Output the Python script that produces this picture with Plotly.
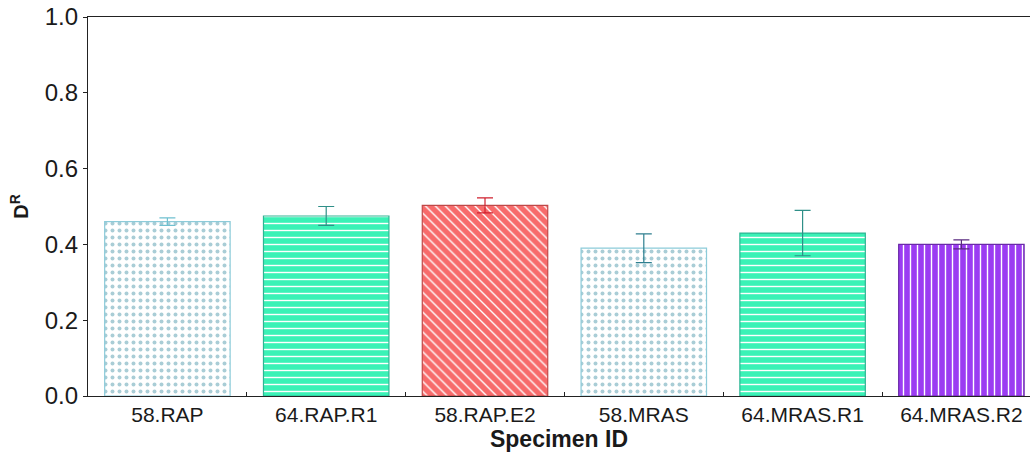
import plotly.graph_objects as go

categories = ["58.RAP", "64.RAP.R1", "58.RAP.E2", "58.MRAS", "64.MRAS.R1", "64.MRAS.R2"]
values = [0.460, 0.475, 0.503, 0.390, 0.430, 0.400]
errors = [0.010, 0.025, 0.020, 0.038, 0.060, 0.012]

fill_colors = ["#FFFFFF", "#3AF2B6", "#F76B6B", "#FFFFFF", "#3AF2B6", "#9B3CF2"]
pattern_fg = ["#A9CDD6", "#FFFFFF", "#FFFFFF", "#A9CDD6", "#FFFFFF", "#FFFFFF"]
shapes = [".", "-", "\\", ".", "-", "|"]
line_colors = ["#8CCBD9", "#2EB594", "#C04848", "#8CCBD9", "#2EB594", "#6A2AA8"]
err_colors = ["#6FC0D0", "#2F8F88", "#D0202E", "#2F7F8F", "#2F8F88", "#5A2A80"]

fig = go.Figure()
for i, c in enumerate(categories):
    fig.add_trace(go.Bar(
        x=[c], y=[values[i]],
        width=0.79,
        marker=dict(
            color=fill_colors[i],
            line=dict(color=line_colors[i], width=1.2),
            pattern=dict(shape=shapes[i], fgcolor=pattern_fg[i], bgcolor=fill_colors[i],
                         size=7, solidity=0.2 if shapes[i] != "." else 0.25,
                         fillmode="replace"),
        ),
        error_y=dict(type="data", array=[errors[i]], visible=True,
                     color=err_colors[i], thickness=1.2, width=8),
        showlegend=False,
    ))

font_fam = "Liberation Sans, Arial, sans-serif"
fig.update_layout(
    barmode="overlay",
    width=1030, height=456,
    margin=dict(l=88, r=0, t=17, b=60),
    paper_bgcolor="white", plot_bgcolor="white",
    font=dict(family=font_fam, color="#1a1a1a"),
    xaxis=dict(
        categoryorder="array", categoryarray=categories,
        range=[-0.5, 5.432],
        automargin=False,
        showline=True, linecolor="#222", linewidth=1.2, mirror=True,
        ticks="inside", ticklen=4, tickcolor="#222", tickson="boundaries",
        tickfont=dict(size=21, color="#1a1a1a"),
        ticklabeloverflow="allow",
        title=dict(text="<b>Specimen ID</b>", font=dict(size=23, color="#1a1a1a"), standoff=0),
        showgrid=False, zeroline=False,
    ),
    yaxis=dict(
        range=[0, 1.0],
        automargin=False,
        tickvals=[0, 0.2, 0.4, 0.6, 0.8, 1.0],
        ticktext=["0.0", "0.2", "0.4", "0.6", "0.8", "1.0"],
        ticklabeloverflow="allow",
        showline=True, linecolor="#222", linewidth=1.2,
        ticks="outside", ticklen=4, tickcolor="#222",
        tickfont=dict(size=24, color="#1a1a1a"),
        title=dict(text="<b>D<sup>R</sup></b>", font=dict(size=20, color="#1a1a1a"), standoff=10),
        showgrid=False, zeroline=False,
    ),
)

fig.write_html("out.html", config={"displayModeBar": False},
               post_script="document.body.style.margin='0px';")
